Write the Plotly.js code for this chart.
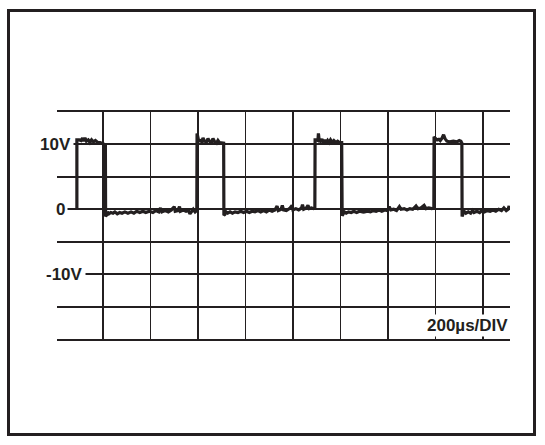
<!DOCTYPE html>
<html>
<head>
<meta charset="utf-8">
<script src="https://cdn.plot.ly/plotly-3.0.1.min.js"></script>
<style>
  html, body { margin: 0; padding: 0; background: #ffffff; }
  #wrap { position: relative; width: 545px; height: 445px; }
  #chart { position: absolute; left: 0; top: 0; width: 545px; height: 445px; }
  #frame { position: absolute; left: 7px; top: 9px; width: 529px; height: 427px;
           box-sizing: border-box; border: 3px solid #231f20; pointer-events: none; }
</style>
</head>
<body>
<div id="wrap">
  <div id="chart"></div>
  <div id="frame"></div>
</div>
<script>
// ---- data (time in microseconds, voltage in volts) ----
const timeUs = [
  -110, -110, -100, -92, -86, -82, -76, -70, -62, -55, -48, -40, -32, -22, -12, -2, 6, 10,
  11, 15, 19, 25, 33, 42, 50, 60, 70, 80, 92, 105, 118, 130, 142, 155, 168, 180, 195, 210,
  222, 235, 242, 248, 262, 275, 288, 300, 304, 315, 322, 326, 338, 350, 360, 366, 372, 380, 388, 395,
  396, 400, 403, 410, 416, 421, 427, 436, 442, 448, 456, 463, 470, 478, 484, 490, 500, 508,
  509, 513, 518, 525, 535, 545, 556, 568, 580, 592, 604, 616, 628, 640, 652, 664, 676, 688,
  700, 712, 724, 733, 738, 750, 755, 760, 772, 785, 796, 800, 812, 824, 836, 840, 845, 856,
  863, 868, 878, 886, 892,
  893, 899, 905, 907, 910, 916, 922, 928, 934, 940, 946, 952, 958, 965, 972, 980, 988, 996, 1005,
  1007, 1011, 1016, 1024, 1034, 1045, 1056, 1068, 1080, 1092, 1097, 1102, 1114, 1126, 1138, 1150,
  1162, 1174, 1186, 1198, 1205, 1212, 1224, 1236, 1248, 1255, 1268, 1280, 1292, 1304, 1318, 1326,
  1338, 1352, 1360, 1372, 1384, 1393,
  1394, 1400, 1407, 1414, 1420, 1428, 1434, 1440, 1448, 1460, 1475, 1490, 1500, 1507, 1511,
  1512, 1516, 1520, 1528, 1538, 1548, 1556, 1562, 1574, 1586, 1596, 1606, 1618, 1630, 1642,
  1654, 1666, 1678, 1688, 1698, 1706, 1710, 1714
];
const volts = [
  0.0, 10.7, 10.7, 10.6, 11.0, 10.5, 11.0, 10.5, 10.7, 10.3, 10.7, 10.4, 10.6, 10.3, 10.3, 10.2, 10.0, 9.9,
  -1.1, -0.9, -0.4, -0.7, -0.5, -0.6, -0.4, -0.7, -0.5, -0.6, -0.4, -0.6, -0.4, -0.6, -0.3, -0.5, -0.3, -0.5, -0.3, -0.5,
  -0.2, -0.4, 0.2, -0.4, -0.2, -0.4, -0.1, 0.4, -0.3, -0.2, 0.4, -0.3, -0.1, -0.3, -0.2, -0.7, -0.3, 0.0, -0.4, -0.2,
  11.7, 11.2, 10.5, 10.6, 10.4, 11.0, 10.5, 10.4, 10.9, 10.5, 10.3, 10.9, 10.4, 10.2, 10.6, 10.3, 10.3, 10.2,
  -0.9, -0.8, -0.4, -0.6, -0.4, -0.6, -0.4, -0.5, -0.3, -0.5, -0.3, -0.5, -0.3, -0.4, -0.2, -0.4, -0.2, -0.4,
  -0.1, -0.3, -0.1, 0.5, -0.2, 0.0, 0.6, -0.1, -0.2, 0.1, 0.6, -0.1, 0.1, -0.1, 0.2, 0.7, 0.0, 0.2,
  0.6, 0.1, 0.2, 0.1, 0.2,
  10.7, 10.7, 10.6, 11.7, 10.7, 10.5, 10.8, 10.3, 10.7, 10.2, 10.6, 10.3, 10.7, 10.3, 10.6, 10.3, 10.5, 10.3, 10.3,
  -1.0, -0.8, -0.4, -0.6, -0.4, -0.5, -0.3, -0.5, -0.3, -0.4, 0.1, -0.4, -0.3, -0.4, -0.2, -0.3,
  -0.1, -0.3, -0.1, -0.2, 0.4, -0.1, 0.0, -0.2, 0.4, 0.0, 0.1, -0.1, 0.1, 0.0, 0.5, 0.1,
  0.2, 0.6, 0.1, 0.2, 0.1, 0.2,
  11.2, 10.9, 10.7, 10.8, 10.6, 11.0, 11.5, 10.9, 10.5, 10.4, 10.5, 10.4, 10.6, 10.5, 10.2,
  -1.1, -0.8, -0.3, -0.6, -0.4, -0.6, -0.2, -0.5, -0.3, -0.5, -0.2, -0.4, -0.2, -0.3, -0.1,
  -0.3, 0.0, -0.2, 0.2, -0.2, 0.0, 0.5, -0.1
];
const voltLabels = ['10V', '0', '-10V'];
const voltLabelValues = [10, 0, -10];
const voltLabelShifts = [17, 11, 29];
const timebaseLabel = '200\u00b5s/DIV';

const ink = '#231f20';
const labelFont = { family: 'Liberation Sans, Arial, sans-serif', size: 17, color: ink, weight: 700 };

const annotations = voltLabels.map((txt, i) => ({
  text: '<b>' + txt + '</b>',
  xref: 'paper', x: 0, xanchor: 'right', xshift: voltLabelShifts[i],
  yref: 'y', y: voltLabelValues[i], yanchor: 'middle',
  showarrow: false, bgcolor: '#ffffff', borderpad: 2, font: labelFont
}));
annotations.push({
  text: '<b>' + timebaseLabel + '</b>',
  xref: 'paper', x: 1, xanchor: 'right', xshift: 0,
  yref: 'paper', y: 0, yanchor: 'bottom', yshift: 2,
  showarrow: false, bgcolor: '#ffffff', borderpad: 1, font: labelFont
});

const trace = {
  x: timeUs, y: volts, type: 'scatter', mode: 'lines',
  line: { color: ink, width: 3.2, shape: 'linear' },
  hoverinfo: 'skip'
};

const layout = {
  width: 545, height: 445,
  margin: { l: 57, r: 35, t: 112, b: 106, pad: 0 },
  paper_bgcolor: '#ffffff', plot_bgcolor: '#ffffff',
  showlegend: false,
  xaxis: {
    range: [-193.7, 1713.7], tick0: 0, dtick: 200, showticklabels: false, ticks: '',
    showgrid: true, gridcolor: ink, gridwidth: 1.7, zeroline: false,
    showline: true, mirror: true, linecolor: ink, linewidth: 2.3, fixedrange: true
  },
  yaxis: {
    range: [-20, 15], tick0: 0, dtick: 5, showticklabels: false, ticks: '',
    showgrid: true, gridcolor: ink, gridwidth: 1.9, zeroline: false,
    showline: false, fixedrange: true
  },
  annotations: annotations
};

Plotly.newPlot('chart', [trace], layout, { displayModeBar: false, staticPlot: true });
</script>
</body>
</html>
